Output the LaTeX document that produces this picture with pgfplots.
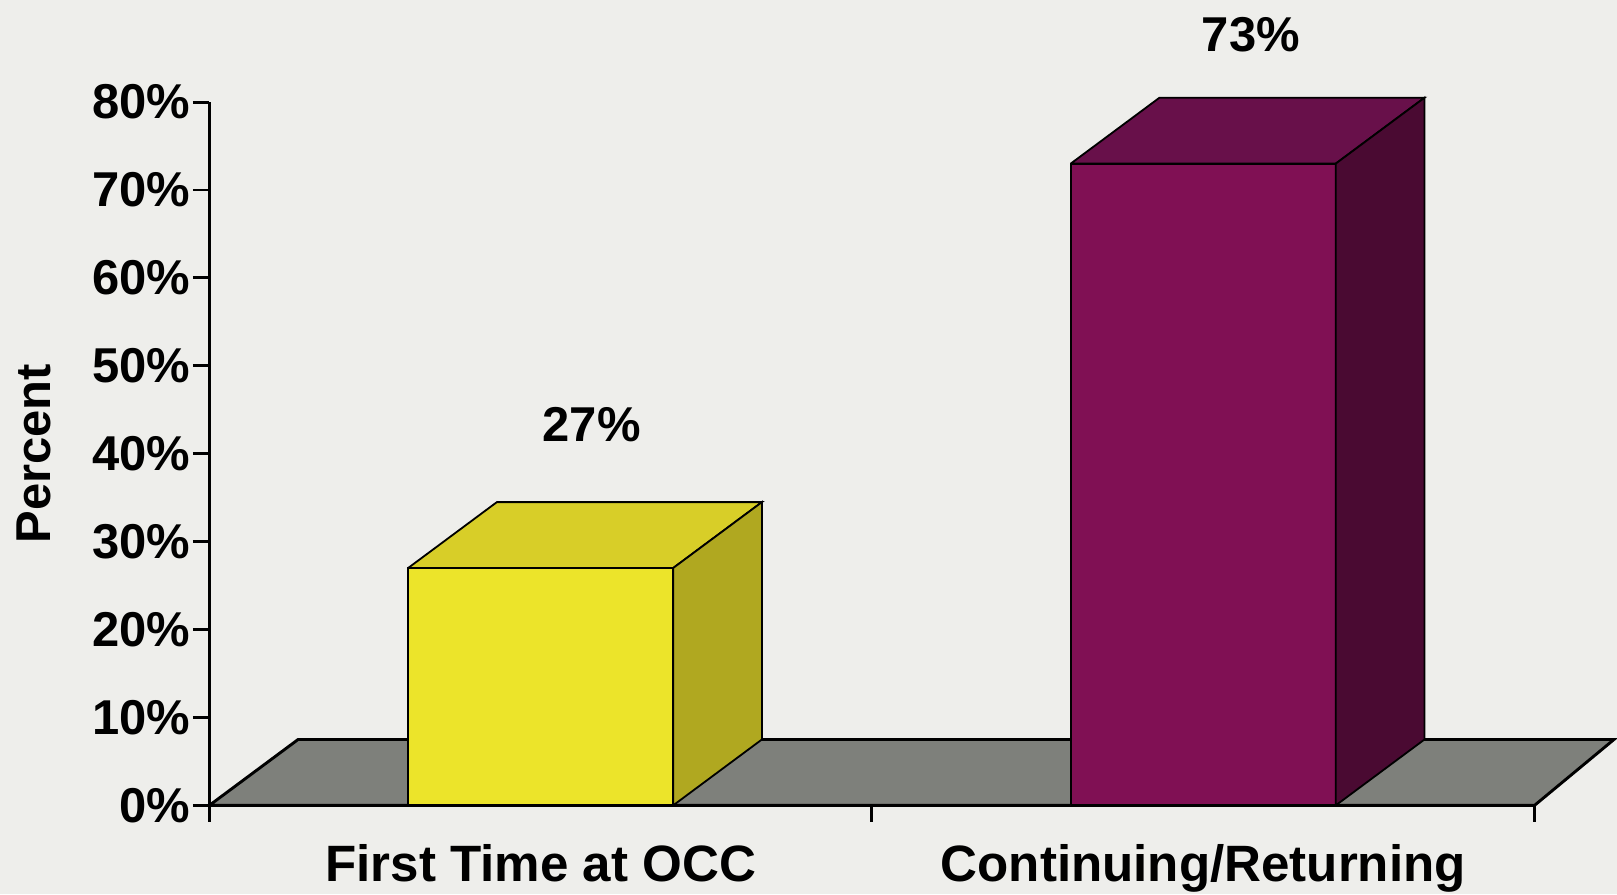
\documentclass[border=0pt]{standalone}
\usepackage{pgfplots}
\pgfplotsset{compat=1.18}
\usepackage{fontspec}
\setmainfont{Liberation Sans}
\definecolor{bgc}{RGB}{238,238,235}
\definecolor{floorc}{RGB}{126,128,123}
\definecolor{yfront}{RGB}{236,228,42}
\definecolor{ytop}{RGB}{216,206,40}
\definecolor{yside}{RGB}{176,168,32}
\definecolor{pfront}{RGB}{128,16,84}
\definecolor{ptop}{RGB}{104,16,74}
\definecolor{pside}{RGB}{74,10,50}
\newcommand{\lblfont}{\fontsize{13.5}{16}\selectfont\bfseries}
\newcommand{\catfont}{\fontsize{14.1}{17}\selectfont\bfseries}

\begin{document}
\begin{tikzpicture}
\fill[bgc] (-2.03,-0.86) rectangle (13.65,7.81);
\begin{axis}[
    at={(0,0)}, anchor=south west,
    scale only axis,
    width=12.85cm, height=6.82cm,
    xmin=0, xmax=2, ymin=0, ymax=80,
    clip=false,
    axis lines*=left,
    axis line style={black, line width=0.8pt},
    xtick={0,1,2}, xticklabels={},
    extra x ticks={0.5,1.5},
    extra x tick labels={First Time at OCC,Continuing/Returning},
    extra x tick style={major tick length=0pt, xticklabel style={font=\catfont, inner sep=0pt, yshift=-0.37cm}},
    ytick={0,10,20,30,40,50,60,70,80},
    yticklabels={0\%,10\%,20\%,30\%,40\%,50\%,60\%,70\%,80\%},
    tick align=outside,
    major tick length=0.16cm,
    tick style={black, line width=0.8pt},
    ticklabel style={font=\lblfont},
    yticklabel style={xshift=0.1cm},
    /pgf/number format/assume math mode=true,
]
% floor
\addplot[fill=floorc, draw=black, line width=0.8pt] coordinates {
    (0,0) (2,0) (2.12,7.5) (0.134,7.5) (0,0)};

% First Time at OCC: 27
\addplot[fill=yfront, draw=black, line width=0.5pt] coordinates {
    (0.3,0) (0.7,0) (0.7,27) (0.3,27) (0.3,0)};
\addplot[fill=ytop, draw=black, line width=0.5pt] coordinates {
    (0.3,27) (0.7,27) (0.834,34.5) (0.434,34.5) (0.3,27)};
\addplot[fill=yside, draw=black, line width=0.5pt] coordinates {
    (0.7,0) (0.834,7.5) (0.834,34.5) (0.7,27) (0.7,0)};

% Continuing/Returning: 73
\addplot[fill=pfront, draw=black, line width=0.5pt] coordinates {
    (1.3,0) (1.7,0) (1.7,73) (1.3,73) (1.3,0)};
\addplot[fill=ptop, draw=black, line width=0.5pt] coordinates {
    (1.3,73) (1.7,73) (1.834,80.5) (1.434,80.5) (1.3,73)};
\addplot[fill=pside, draw=black, line width=0.5pt] coordinates {
    (1.7,0) (1.834,7.5) (1.834,80.5) (1.7,73) (1.7,0)};

\node[font=\lblfont] at (axis cs:0.577,43.3) {27\%};
\node[font=\lblfont] at (axis cs:1.572,87.7) {73\%};
\node[font=\lblfont, rotate=90] at (axis cs:-0.2646,40) {Percent};
\end{axis}
\end{tikzpicture}
\end{document}
